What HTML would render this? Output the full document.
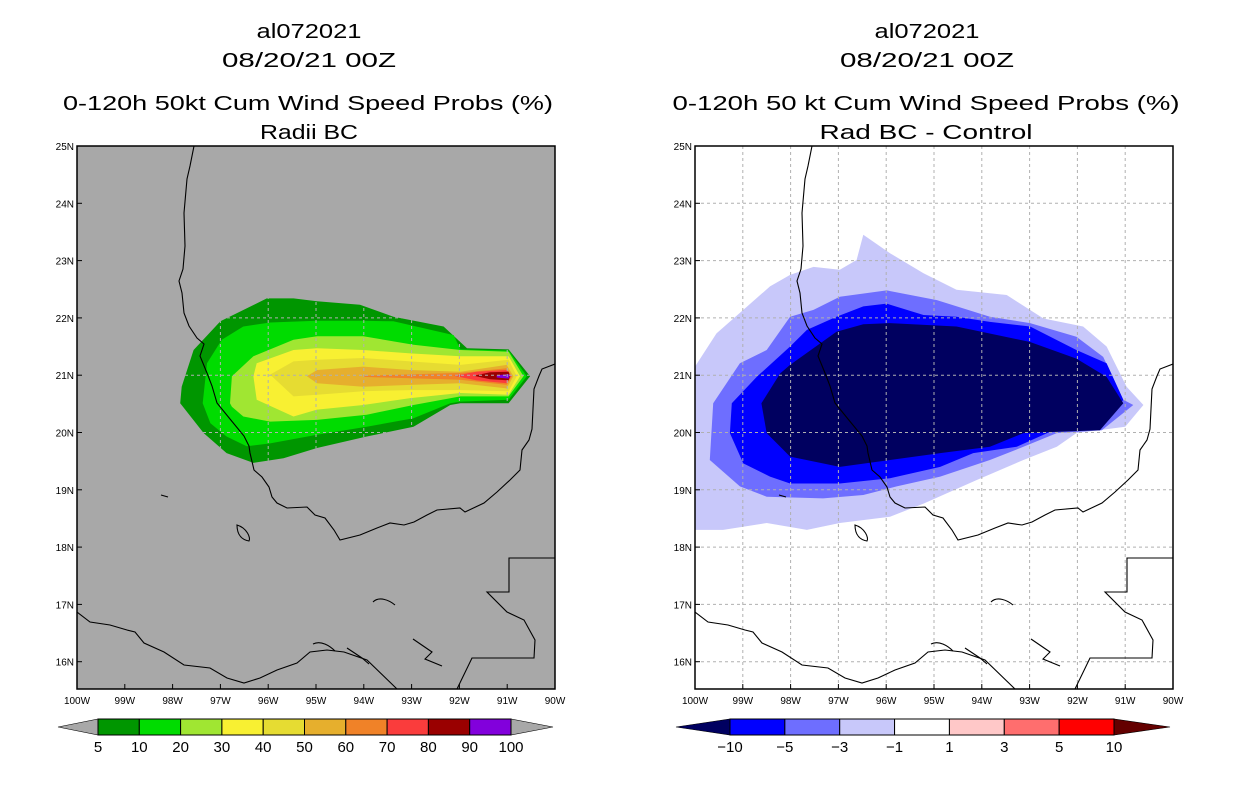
<!DOCTYPE html>
<html><head><meta charset="utf-8"><style>
html,body{margin:0;padding:0;background:#fff;}
svg{display:block;font-family:"Liberation Sans",sans-serif;}
</style></head><body>
<svg id="root" width="1236" height="800" viewBox="0 0 1236 800" xmlns="http://www.w3.org/2000/svg">
<g font-size="20" text-anchor="middle" fill="#000">
<text x="309" y="38" textLength="105" lengthAdjust="spacingAndGlyphs">al072021</text>
<text x="309" y="67" textLength="174" lengthAdjust="spacingAndGlyphs">08/20/21 00Z</text>
<text x="308" y="110" textLength="490" lengthAdjust="spacingAndGlyphs">0-120h 50kt Cum Wind Speed Probs (%)</text>
<text x="309" y="139" textLength="98" lengthAdjust="spacingAndGlyphs">Radii BC</text>
</g>
<g font-size="20" text-anchor="middle" fill="#000">
<text x="927" y="38" textLength="105" lengthAdjust="spacingAndGlyphs">al072021</text>
<text x="927" y="67" textLength="174" lengthAdjust="spacingAndGlyphs">08/20/21 00Z</text>
<text x="926" y="110" textLength="507" lengthAdjust="spacingAndGlyphs">0-120h 50 kt Cum Wind Speed Probs (%)</text>
<text x="926" y="139" textLength="213" lengthAdjust="spacingAndGlyphs">Rad BC - Control</text>
</g>
<g id="leftPanel"></g>
<g id="rightPanel"></g>
<g id="leftBar"></g>
<g id="rightBar"></g>
</svg>
<script>
// ---- data ----
const lonTicks = [100,99,98,97,96,95,94,93,92,91,90];
const latTicks = [25,24,23,22,21,20,19,18,17,16];
const probLevels = [5,10,20,30,40,50,60,70,80,90,100];
const probColors = ["#009600","#00dc00","#a0e632","#f8f032","#e6dc32","#e6af2d","#f08228","#fa3c3c","#9a0000","#8200dc"];
const diffLevels = [-10,-5,-3,-1,1,3,5,10];
const diffColors = ["#0000ff","#6e6eff","#c8c8fa","#ffffff","#ffc8c8","#ff6e6e","#ff0000"];
// probability contours [lonW, latN]
const prob5 = [[97.84,20.51],[97.81,20.80],[97.56,21.44],[97.00,21.94],[96.59,22.11],[96.03,22.34],[95.47,22.34],[94.98,22.29],[94.08,22.23],[93.38,22.02],[92.33,21.85],[91.84,21.47],[90.97,21.45],[90.52,20.98],[90.97,20.51],[91.98,20.51],[92.19,20.48],[92.96,20.10],[93.94,19.93],[94.98,19.73],[95.68,19.55],[96.31,19.47],[96.87,19.64],[97.35,19.99]];
const prob10 = [[97.37,20.51],[97.28,21.21],[96.97,21.62],[96.52,21.85],[95.96,21.92],[94.98,21.95],[94.01,21.95],[93.38,21.94],[92.96,21.86],[92.12,21.70],[91.98,21.45],[90.97,21.43],[90.59,20.98],[90.97,20.57],[91.98,20.54],[92.19,20.51],[92.96,20.25],[93.94,20.10],[94.98,19.96],[95.96,19.81],[96.45,19.76],[96.87,19.93],[97.21,20.16]];
const prob20 = [[96.80,20.51],[96.76,20.98],[96.31,21.33],[95.47,21.62],[94.98,21.68],[94.01,21.68],[93.38,21.59],[92.96,21.53],[91.98,21.44],[90.97,21.41],[90.66,20.98],[90.97,20.63],[91.98,20.63],[92.96,20.48],[93.94,20.31],[94.98,20.22],[95.96,20.19],[96.52,20.28],[96.76,20.45]];
const prob30 = [[96.31,20.98],[96.24,21.21],[95.47,21.44],[94.98,21.47],[94.01,21.44],[93.03,21.38],[91.98,21.33],[90.97,21.33],[90.73,20.98],[90.97,20.66],[91.98,20.69],[93.03,20.60],[94.01,20.48],[94.98,20.40],[95.47,20.28],[96.24,20.57]];
const prob40 = [[95.96,21.01],[95.47,21.24],[94.98,21.27],[94.01,21.30],[93.03,21.24],[91.98,21.18],[90.97,21.27],[90.80,20.98],[90.97,20.72],[91.98,20.74],[93.03,20.74],[94.01,20.72],[94.98,20.66],[95.47,20.63]];
const prob50 = [[95.19,20.98],[94.98,21.09],[94.01,21.15],[93.03,21.09],[91.98,21.06],[91.01,21.18],[90.87,20.98],[91.01,20.77],[91.98,20.86],[93.03,20.83],[94.01,20.80],[94.98,20.86]];
const prob60 = [[94.01,20.99],[91.98,21.04],[91.01,21.12],[90.90,20.98],[91.01,20.83],[91.98,20.92],[94.01,20.97]];
const prob70 = [[92.12,20.99],[91.64,21.06],[91.01,21.09],[90.92,20.98],[91.01,20.86],[91.64,20.91]];
const prob80 = [[91.70,20.99],[91.36,21.05],[90.97,21.06],[90.94,20.98],[90.97,20.91],[91.36,20.93]];
const prob90 = [[91.22,21.00],[90.97,21.02],[90.95,20.98],[90.97,20.94],[91.22,20.96]];
// difference contours [lonW, latN]
const diffM1 = [[100.0,21.15],[99.55,21.73],[98.99,22.14],[98.43,22.55],[98.01,22.75],[97.52,22.89],[96.97,22.84],[96.62,23.01],[96.48,23.45],[95.92,23.13],[95.22,22.78],[94.53,22.49],[93.48,22.40],[92.71,21.99],[91.88,21.85],[91.39,21.50],[90.97,20.80],[90.62,20.48],[91.00,20.10],[92.02,19.99],[92.43,19.75],[93.13,19.52],[94.11,19.17],[95.22,18.76],[95.92,18.53],[96.97,18.42],[97.66,18.30],[98.50,18.42],[99.41,18.30],[100.0,18.30]];
const diffM3 = [[99.69,19.52],[99.62,20.51],[99.06,21.21],[98.50,21.44],[98.01,22.02],[97.52,22.14],[96.97,22.37],[95.99,22.48],[94.94,22.31],[93.83,22.02],[92.99,21.91],[92.02,21.67],[91.46,21.32],[91.04,20.57],[90.83,20.48],[91.49,20.04],[92.43,19.99],[93.13,19.75],[93.83,19.52],[94.87,19.23],[95.78,19.06],[96.48,18.91],[97.32,18.85],[98.50,18.88],[99.06,19.06]];
const diffM5 = [[99.27,19.99],[99.23,20.51],[98.71,20.97],[98.01,21.50],[97.66,21.79],[97.04,22.02],[96.48,22.20],[95.99,22.25],[95.22,22.05],[94.53,22.02],[93.83,21.93],[92.99,21.85],[92.02,21.44],[91.39,21.21],[91.04,20.57],[91.53,20.04],[92.50,20.04],[93.27,19.75],[94.18,19.64],[94.87,19.40],[95.92,19.20],[96.97,19.11],[98.01,19.11],[98.43,19.23],[98.99,19.46]];
const diffM10 = [[98.61,20.51],[98.50,19.99],[98.01,19.58],[96.97,19.40],[95.92,19.52],[94.87,19.64],[93.83,19.75],[93.13,19.99],[91.53,20.04],[91.04,20.51],[91.39,20.97],[92.02,21.29],[92.99,21.58],[94.53,21.85],[95.92,21.91],[96.48,21.89],[97.04,21.76],[98.01,21.18],[98.22,21.03]];

// ---- geometry ----
const W = 478, H = 543, PY = 146, DX = 47.8, DY = 57.3;
const NS = "http://www.w3.org/2000/svg";
function mk(tag, attrs, parent){const e=document.createElementNS(NS,tag);for(const k in attrs)e.setAttribute(k,attrs[k]);if(parent)parent.appendChild(e);return e;}
function xs(x0,lonW){return x0+(100-lonW)*DX;}
function ys(lat){return PY+(25-lat)*DY;}
function polyPts(x0,arr){return arr.map(p=>xs(x0,p[0]).toFixed(1)+","+ys(p[1]).toFixed(1)).join(" ");}

// coastline (map decoration, plot-relative pixels)
const coastMain = "M117,0 L113,20 L110,33 L107,67 L108,100 L106,123 L102,135 L105,147 L107,167 L112,180 L120,192 L127,198 L123,210 L130,227 L135,240 L140,257 L153,273 L167,290 L172,300 L173,307 L177,324 L185,331 L192,341 L195,351 L200,357 L210,362 L230,361 L238,369 L248,372 L257,384 L263,394 L283,389 L300,382 L313,377 L327,379 L337,376 L350,369 L360,364 L383,362 L388,366 L407,357 L420,346 L433,334 L443,324 L445,304 L452,294 L455,283 L457,243 L462,230 L465,223 L478,218";
const coastPac = "M0,466 L13,476 L33,479 L50,484 L58,486 L67,497 L87,506 L107,519 L133,522 L150,532 L167,537 L183,532 L200,524 L220,517 L233,506 L250,504 L267,506 L290,514 L320,543";
const border = "M380,543 L395,512 L457,512 L458,494 L447,474 L430,466 L410,446 L432,446 L432,412 L478,412";
const islands = ["M160,379 C170,382 174,392 172,395 C166,394 160,390 160,379 Z","M296,456 C302,450 312,454 318,459","M84,349 L91,351","M336,493 L355,506 L348,513 L365,520","M236,498 C244,494 253,500 258,505","M270,502 L285,512 L292,518"];

function drawPanel(g, x0, isLeft){
  const bg = isLeft ? "#a8a8a8" : "#ffffff";
  const r = mk("rect",{x:x0,y:PY,width:W,height:H,fill:bg},g);
  
  
  const cid = isLeft ? "clipL" : "clipR";
  const cp = mk("clipPath",{id:cid},g); mk("rect",{x:x0,y:PY,width:W,height:H},cp);
  const fg = mk("g",{"clip-path":"url(#"+cid+")"},g);
  
  
  if(isLeft){
    const sets=[prob5,prob10,prob20,prob30,prob40,prob50,prob60,prob70,prob80,prob90];
    sets.forEach((s,i)=>{const p=mk("polygon",{points:polyPts(x0,s),fill:probColors[i]},fg);
      
      });
  } else {
    const sets=[diffM1,diffM3,diffM5,diffM10];
    const cols=["#c8c8fa","#6e6eff","#0000ff","#000060"];
    const nm=["minus1","minus3","minus5","minus10"];
    sets.forEach((s,i)=>{const p=mk("polygon",{points:polyPts(x0,s),fill:cols[i]},fg);
      
      });
  }
  let gridParent = fg;
  if(isLeft){
    const cid2="clipL5"; const cp2=mk("clipPath",{id:cid2},g); mk("polygon",{points:polyPts(x0,prob5)},cp2);
    gridParent = mk("g",{"clip-path":"url(#"+cid2+")"},fg);
  }
  const grid = mk("g",{stroke:"#b0b0b0","stroke-width":1,"stroke-dasharray":"3,3",fill:"none"},gridParent);
  
  
  lonTicks.slice(1,-1).forEach(l=>{mk("line",{x1:xs(x0,l),x2:xs(x0,l),y1:PY,y2:PY+H},grid);});
  latTicks.slice(1).forEach(l=>{mk("line",{x1:x0,x2:x0+W,y1:ys(l),y2:ys(l)},grid);});
  const cg = mk("g",{transform:"translate("+x0+","+PY+")",stroke:"#000","stroke-width":1.1,fill:"none"},fg);
  
  
  [coastMain,coastPac,border].concat(islands).forEach(d=>mk("path",{d:d},cg));
  const fr = mk("rect",{x:x0,y:PY,width:W,height:H,fill:"none",stroke:"#000","stroke-width":1.5},g);
  
  
  const ax = mk("g",{"font-size":10,fill:"#000"},g);
  
  
  lonTicks.forEach(l=>{const x=xs(x0,l);
    mk("line",{x1:x,x2:x,y1:PY+H,y2:PY+H-5,stroke:"#000"},ax);
    const t=mk("text",{x:x,y:PY+H+15,"text-anchor":"middle"},ax); t.textContent=l+"W";
    
    });
  latTicks.forEach(l=>{const y=ys(l);
    mk("line",{x1:x0,x2:x0+5,y1:y,y2:y,stroke:"#000"},ax);
    const t=mk("text",{x:x0-3,y:y+4,"text-anchor":"end"},ax); t.textContent=l+"N";
    
    });
}
drawPanel(document.getElementById("leftPanel"),77,true);
drawPanel(document.getElementById("rightPanel"),695,false);

function drawBar(g, xL, xR, bL, bR, y0, h, levels, colors, leftCol, rightCol, lblY){
  const n=colors.length, bw=(bR-bL)/n, ym=y0+h/2;
  const tl=mk("polygon",{points:`${xL},${ym} ${bL},${y0} ${bL},${y0+h}`,fill:leftCol,stroke:"#000","stroke-width":0.6},g);
  
  
  const tr=mk("polygon",{points:`${xR},${ym} ${bR},${y0} ${bR},${y0+h}`,fill:rightCol,stroke:"#000","stroke-width":0.6},g);
  
  
  colors.forEach((c,i)=>{const r=mk("rect",{x:bL+i*bw,y:y0,width:bw,height:h,fill:c,stroke:"#000","stroke-width":1},g);
    
    });
  levels.forEach((v,i)=>{const t=mk("text",{x:bL+i*bw,y:lblY,"text-anchor":"middle","font-size":15,fill:"#000"},g);
    t.textContent=v<0?"\u2212"+(-v):String(v);
    
    });
}
drawBar(document.getElementById("leftBar"),58,553,98,511,719,16,probLevels,probColors,"#a8a8a8","#a8a8a8",752);
drawBar(document.getElementById("rightBar"),676,1170,730,1114,719,16,diffLevels,diffColors,"#000060","#640000",752);
</script>
</body></html>
